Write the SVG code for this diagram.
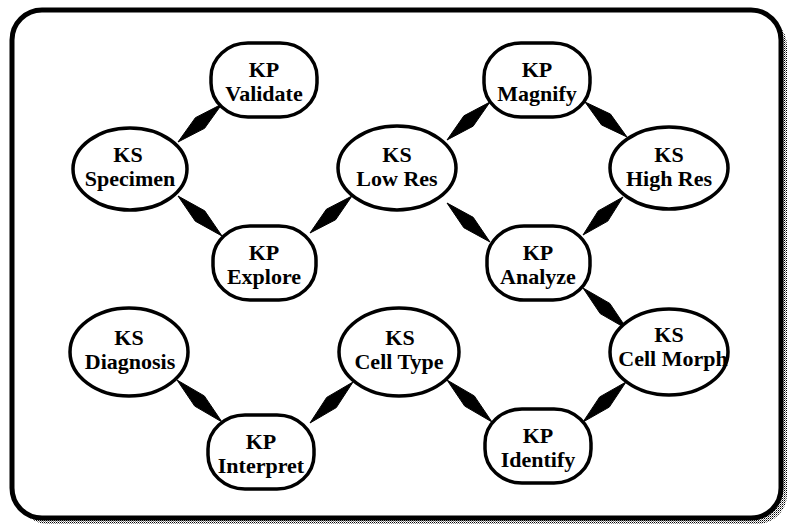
<svg xmlns="http://www.w3.org/2000/svg" width="789" height="527" viewBox="0 0 789 527">
<defs>
<pattern id="dots" width="2" height="2" patternUnits="userSpaceOnUse">
<rect width="1" height="1" fill="#000"/>
<rect x="1" y="1" width="1" height="1" fill="#888"/>
</pattern>
<style>
.ks{fill:#fff;stroke:#000;stroke-width:3.5}
.kp{fill:#fff;stroke:#000;stroke-width:3.5}
.lbl{font-family:"Liberation Serif","Times New Roman",serif;font-weight:bold;font-size:22px;text-anchor:middle;fill:#000}
.conn polygon{fill:#000;stroke:#000;stroke-width:1;stroke-linejoin:round}
</style>
</defs>
<rect width="789" height="527" fill="#fff"/>
<rect x="18" y="16" width="769" height="508" rx="30" fill="url(#dots)"/>
<rect x="12" y="10" width="769" height="508" rx="30" fill="#fff" stroke="#000" stroke-width="5"/>

<g id="connectors" class="conn">
<polygon points="178,142 204.6,128.3 222,104 195.4,117.7"/>
<polygon points="178,196 195.3,221.2 222,236 204.7,210.8"/>
<polygon points="310,233 335.6,219.75 352,196 326.4,209.25"/>
<polygon points="447,140 473.1,126.2 490,102 463.9,115.8"/>
<polygon points="585,102 601.5,124.9 627,137 610.5,114.1"/>
<polygon points="447,203 463.8,227.7 490,242 473.2,217.3"/>
<polygon points="583,235 607.8,221.1 623,197 598.2,210.9"/>
<polygon points="583,288 600.2,313.6 627,329 609.8,303.4"/>
<polygon points="177,380 194.7,406.1 222,422 204.3,395.9"/>
<polygon points="310,423 336.3,407.6 353,382 326.7,397.4"/>
<polygon points="447,380 464.7,406.1 492,422 474.3,395.9"/>
<polygon points="583,422 609.3,407.1 626,382 599.7,396.9"/>
</g>

<g id="kp-validate">
<rect class="kp" x="211" y="43" width="106" height="74" rx="37" ry="34"/>
<text class="lbl" x="264" y="77">KP</text>
<text class="lbl" x="264" y="101">Validate</text>
</g>
<g id="ks-specimen">
<ellipse class="ks" cx="130" cy="169" rx="57" ry="41"/>
<text class="lbl" x="128" y="162">KS</text>
<text class="lbl" x="130" y="186">Specimen</text>
</g>
<g id="kp-explore">
<rect class="kp" x="213" y="226" width="103" height="74" rx="37" ry="34"/>
<text class="lbl" x="264" y="260">KP</text>
<text class="lbl" x="264" y="284">Explore</text>
</g>
<g id="ks-lowres">
<ellipse class="ks" cx="397" cy="168" rx="59" ry="42"/>
<text class="lbl" x="397" y="162">KS</text>
<text class="lbl" x="397" y="186">Low Res</text>
</g>
<g id="kp-magnify">
<rect class="kp" x="484" y="43" width="106" height="74" rx="37" ry="34"/>
<text class="lbl" x="537" y="77">KP</text>
<text class="lbl" x="537" y="101">Magnify</text>
</g>
<g id="ks-highres">
<ellipse class="ks" cx="669" cy="168" rx="59" ry="41"/>
<text class="lbl" x="669" y="162">KS</text>
<text class="lbl" x="669" y="186">High Res</text>
</g>
<g id="kp-analyze">
<rect class="kp" x="487" y="226" width="103" height="74" rx="37" ry="34"/>
<text class="lbl" x="538" y="260">KP</text>
<text class="lbl" x="538" y="284">Analyze</text>
</g>
<g id="ks-diagnosis">
<ellipse class="ks" cx="129" cy="352" rx="59" ry="44"/>
<text class="lbl" x="129" y="345">KS</text>
<text class="lbl" x="130" y="369">Diagnosis</text>
</g>
<g id="ks-celltype">
<ellipse class="ks" cx="399" cy="352" rx="60" ry="44"/>
<text class="lbl" x="400" y="345">KS</text>
<text class="lbl" x="399" y="369">Cell Type</text>
</g>
<g id="ks-cellmorph">
<ellipse class="ks" cx="669" cy="352" rx="59" ry="43"/>
<text class="lbl" x="669" y="342">KS</text>
<text class="lbl" x="673" y="366">Cell Morph</text>
</g>
<g id="kp-interpret">
<rect class="kp" x="208" y="415" width="106" height="74" rx="37" ry="34"/>
<text class="lbl" x="261" y="449">KP</text>
<text class="lbl" x="261" y="473">Interpret</text>
</g>
<g id="kp-identify">
<rect class="kp" x="485" y="409" width="106" height="74" rx="37" ry="34"/>
<text class="lbl" x="538" y="443">KP</text>
<text class="lbl" x="538" y="467">Identify</text>
</g>
</svg>
